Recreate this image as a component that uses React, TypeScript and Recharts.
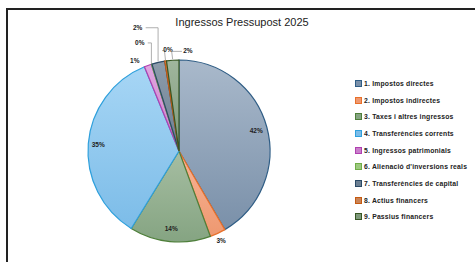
import { PieChart, Pie, Cell, Legend } from "recharts";

const categories = [
  "1. Impostos directes",
  "2. Impostos indirectes",
  "3. Taxes i altres ingressos",
  "4. Transferències corrents",
  "5. Ingressos patrimonials",
  "6. Alienació d'inversions reals",
  "7. Transferències de capital",
  "8. Actius financers",
  "9. Passius financers",
];

// percentage share of the 2025 budget
const shares = [41.6, 2.8, 14.4, 35.0, 1.3, 0.1, 2.3, 0.3, 2.2];

const data = categories.map((name, i) => ({ name, value: shares[i] }));

const fillTop = ["#a9b9cb", "#f7b597", "#a6bea2", "#a7d6f5", "#e0a6e0", "#b8da9e", "#8d9cab", "#d89e74", "#a0b69d"];
const fillBottom = ["#7a90a9", "#ee9870", "#85a482", "#7cbce8", "#c97fcb", "#9cc97f", "#6c7f92", "#c98457", "#7e997b"];
const strokes = ["#2f5d85", "#e8702a", "#4e7f3a", "#2fa0dc", "#b040b0", "#70ad47", "#2b4a66", "#c55a11", "#375623"];

// label placement: radius and angular shift (deg), leader line kind
const labelSpots = [
  { r: 80, shift: 0, leader: 0 },
  { r: 99, shift: 0, leader: 0 },
  { r: 78, shift: 0, leader: 0 },
  { r: 81, shift: 0, leader: 0 },
  { r: 101, shift: -6, leader: 0 },
  { r: 115, shift: -2.5, leader: 1 },
  { r: 130, shift: -5.4, leader: 1 },
  { r: 102, shift: 2.3, leader: 2 },
  { r: 101, shift: 9, leader: 2 },
];

const FONT = "Liberation Sans, Arial, sans-serif";
const RAD = Math.PI / 180;

function renderLabel(props: any) {
  const { cx, cy, midAngle, outerRadius, index, percent } = props;
  const spot = labelSpots[index];
  const theta = 90 - midAngle;
  const t = (theta + spot.shift) * RAD;
  const lx = cx + spot.r * Math.sin(t);
  const ly = cy - spot.r * Math.cos(t);
  const ex = cx + (outerRadius + 1) * Math.sin(theta * RAD);
  const ey = cy - (outerRadius + 1) * Math.cos(theta * RAD);
  let path = "";
  if (spot.leader === 1) {
    path = `M${ex},${ey} L${ex},${ly} L${lx + 8},${ly}`;
  } else if (spot.leader === 2) {
    const side = ex < lx ? -1 : 1;
    path = `M${ex},${ey} L${ex + side * 1},${ly + 1} L${lx + side * 6},${ly + 1}`;
  }
  return (
    <g key={`lbl-${index}`}>
      {path && <path d={path} stroke="#9a9a9a" strokeWidth={0.8} fill="none" />}
      <text
        x={lx}
        y={ly}
        textAnchor="middle"
        dominantBaseline="central"
        fontSize={6.5}
        fontWeight="bold"
        fontFamily={FONT}
        fill="#222"
      >
        {`${Math.round(percent * 100)}%`}
      </text>
    </g>
  );
}

function LegendBox() {
  return (
    <div style={{ fontFamily: FONT }}>
      {categories.map((c, i) => (
        <div
          key={c}
          style={{
            display: "flex",
            alignItems: "center",
            height: 16.7,
            fontSize: 6.8,
            letterSpacing: 0.2,
            fontWeight: "bold",
            color: "#222",
            whiteSpace: "nowrap",
          }}
        >
          <span
            style={{
              width: 5,
              height: 5,
              border: `1px solid ${strokes[i]}`,
              background: fillBottom[i],
              marginRight: 2,
              display: "inline-block",
            }}
          />
          {c}
        </div>
      ))}
    </div>
  );
}

export default function App() {
  return (
    <div style={{ position: "fixed", left: 0, top: 0, width: 475, height: 262, background: "#fff", overflow: "hidden" }}>
      <div
        style={{
          position: "absolute",
          left: 6,
          top: 8,
          width: 500,
          height: 300,
          borderLeft: "2px solid #222",
          borderTop: "2px solid #222",
        }}
      />
      <div
        style={{
          position: "absolute",
          left: 160,
          top: 16,
          width: 164,
          textAlign: "center",
          fontFamily: FONT,
          fontSize: 11,
          color: "#222",
        }}
      >
        Ingressos Pressupost 2025
      </div>
      <div style={{ position: "absolute", left: 0, top: 0 }}>
        <PieChart width={475} height={262} margin={{ top: 0, right: 0, bottom: 0, left: 0 }}>
          <defs>
            {fillTop.map((c, i) => (
              <linearGradient key={i} id={`g${i}`} x1="0" y1="0" x2="0" y2="1">
                <stop offset="0%" stopColor={c} />
                <stop offset="100%" stopColor={fillBottom[i]} />
              </linearGradient>
            ))}
          </defs>
          <Pie
            data={data}
            dataKey="value"
            nameKey="name"
            cx={179}
            cy={151}
            outerRadius={91}
            startAngle={90}
            endAngle={-270}
            label={renderLabel}
            labelLine={false}
            isAnimationActive={false}
          >
            {data.map((d, i) => (
              <Cell key={d.name} fill={`url(#g${i})`} stroke={strokes[i]} strokeWidth={1.2} />
            ))}
          </Pie>
          <Legend
            layout="vertical"
            content={() => <LegendBox />}
            wrapperStyle={{ position: "absolute", left: 355, top: 75, width: 120 }}
          />
        </PieChart>
      </div>
    </div>
  );
}
